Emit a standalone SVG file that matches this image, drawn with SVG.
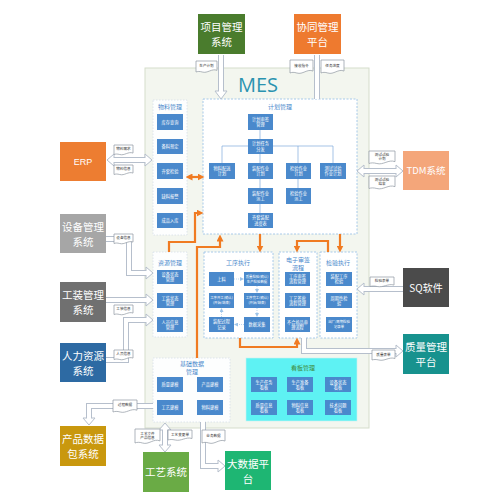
<svg xmlns="http://www.w3.org/2000/svg" width="500" height="500" viewBox="0 0 500 500">
<style>
text{font-family:"Noto Sans CJK SC","Noto Sans",sans-serif;text-anchor:middle;}
.b{fill:#4a89cc;}
.bt{fill:#fff;font-size:4.2px;}
.gt{fill:#4a89cc;font-size:6px;}
.grp{fill:#fdfefe;stroke:#d5e0ea;stroke-width:0.8;stroke-dasharray:1.5 1.5;}
.dash{fill:#fff;stroke:#9ec4e8;stroke-width:0.9;stroke-dasharray:2 1.5;}
.tl{stroke:#7ea9db;stroke-width:0.7;fill:none;}
.dl{stroke:#9ec4e8;stroke-width:0.7;fill:none;stroke-dasharray:1 1;}
.ho{fill:none;stroke:#b6bfcc;stroke-width:6;stroke-linejoin:miter;}
.hi{fill:none;stroke:#fff;stroke-width:4;stroke-linejoin:miter;}
.ah{fill:#fff;stroke:#b6bfcc;stroke-width:1;stroke-linejoin:miter;}
.or{fill:none;stroke:#f07b22;stroke-width:2.2;}
.doc{fill:#fff;stroke:#8e96a0;stroke-width:0.7;}
.dt{fill:#333;font-size:3.6px;}
.ext{font-size:10.5px;fill:#fff;}
</style>
<defs>
<path id="docp" d="M0,0 H20 V8.5 C15,6.5 11,11.5 6,10 C3.5,9.3 1.5,9.4 0,10 Z" vector-effect="non-scaling-stroke"/>
<marker id="oa" markerWidth="7" markerHeight="7" refX="3.5" refY="3.5" orient="auto" markerUnits="userSpaceOnUse" viewBox="0 0 7 7">
<path d="M0,0 L7,3.5 L0,7 Z" fill="#f07b22"/>
</marker>
<marker id="oas" markerWidth="7" markerHeight="7" refX="3.5" refY="3.5" orient="auto-start-reverse" markerUnits="userSpaceOnUse" viewBox="0 0 7 7">
<path d="M0,0 L7,3.5 L0,7 Z" fill="#f07b22"/>
</marker>
<marker id="da" markerWidth="4" markerHeight="4" refX="2" refY="2" orient="auto" markerUnits="userSpaceOnUse" viewBox="0 0 4 4">
<path d="M0,0 L4,2 L0,4 Z" fill="#9ec4e8"/>
</marker>
</defs>
<rect width="500" height="500" fill="#fff"/>

<!-- MES container -->
<g id="mes">
<rect x="145" y="68" width="224" height="360" fill="#f3f6ef" stroke="#d5ddcb" stroke-width="1"/>
<text x="258" y="92" style="font-family:'Open Sans','Liberation Sans',sans-serif;font-size:20px;fill:#2a93b0;">MES</text>
</g>

<g id="wuliao">
<rect class="grp" x="153" y="100" width="34" height="135"/>
<text class="gt" x="170" y="109">物料管理</text>
<rect class="b" x="157" y="114" width="26" height="16"/><text class="bt" x="170" y="123.5">库存查询</text>
<rect class="b" x="157" y="139" width="26" height="15"/><text class="bt" x="170" y="148">备料预定</text>
<rect class="b" x="157" y="163" width="26" height="16"/><text class="bt" x="170" y="172.5">齐套检验</text>
<rect class="b" x="157" y="188" width="26" height="16"/><text class="bt" x="170" y="197.5">缺料报警</text>
<rect class="b" x="157" y="213" width="26" height="15"/><text class="bt" x="170" y="222">成品入库</text>
</g>

<g id="jihua">
<rect class="dash" x="203" y="99" width="154" height="135"/>
<text class="gt" x="280" y="109">计划管理</text>
<path class="tl" d="M260,130 V139 M222,146 H333 M222,146 V163 M260,154 V163 M298,146 V163 M333,146 V163 M260,179 V188 M260,204 V213 M298,179 V188"/>
<rect class="b" x="248" y="114" width="25" height="16"/><text class="bt" x="260.5" y="120.8">计划审签</text><text class="bt" x="260.5" y="126.3">管理</text>
<rect class="b" x="248" y="139" width="25" height="15"/><text class="bt" x="260.5" y="145.3">计划任务</text><text class="bt" x="260.5" y="150.8">分发</text>
<rect class="b" x="209" y="163" width="26" height="16"/><text class="bt" x="222" y="169.8">物料配送</text><text class="bt" x="222" y="175.3">计划</text>
<rect class="b" x="248" y="163" width="25" height="16"/><text class="bt" x="260.5" y="169.8">装配作业</text><text class="bt" x="260.5" y="175.3">计划</text>
<rect class="b" x="286" y="163" width="25" height="16"/><text class="bt" x="298.5" y="169.8">检验作业</text><text class="bt" x="298.5" y="175.3">计划</text>
<rect class="b" x="320" y="163" width="26" height="16"/><text class="bt" x="333" y="169.8">测试试验</text><text class="bt" x="333" y="175.3">作业计划</text>
<rect class="b" x="248" y="188" width="25" height="16"/><text class="bt" x="260.5" y="194.8">装配作业</text><text class="bt" x="260.5" y="200.3">派工</text>
<rect class="b" x="286" y="188" width="25" height="16"/><text class="bt" x="298.5" y="194.8">检验作业</text><text class="bt" x="298.5" y="200.3">派工</text>
<rect class="b" x="248" y="213" width="25" height="15"/><text class="bt" x="260.5" y="219.3">齐套装配</text><text class="bt" x="260.5" y="224.8">进度表</text>
</g>

<g id="ziyuan">
<rect class="grp" x="153" y="252" width="34" height="85"/>
<text class="gt" x="170" y="265">资源管理</text>
<rect class="b" x="157" y="270" width="26" height="14"/><text class="bt" x="170" y="276">设备状态</text><text class="bt" x="170" y="281.2">管理</text>
<rect class="b" x="157" y="293" width="26" height="15"/><text class="bt" x="170" y="299.5">工装状态</text><text class="bt" x="170" y="304.7">管理</text>
<rect class="b" x="157" y="317" width="26" height="15"/><text class="bt" x="170" y="323.5">人员信息</text><text class="bt" x="170" y="328.7">管理</text>
</g>

<g id="gongxu">
<rect class="dash" x="204" y="252" width="69" height="86"/>
<text class="gt" x="238" y="265">工序执行</text>
<path class="dl" d="M234,279 H242" marker-end="url(#da)"/>
<path class="dl" d="M257,286 V291" marker-end="url(#da)"/>
<path class="dl" d="M257,308 V315" marker-end="url(#da)"/>
<path class="dl" d="M244,324.5 H236" marker-end="url(#da)"/>
<path class="dl" d="M221.5,317 V310" marker-end="url(#da)"/>
<rect class="b" x="209" y="272" width="25" height="14"/><text class="bt" x="221.5" y="280.5">上料</text>
<rect class="b" x="244" y="272" width="26" height="14"/><text class="bt" x="257" y="277.8" style="font-size:3.4px">质量检验(确认)</text><text class="bt" x="257" y="282.6" style="font-size:3.4px">生产检验数据</text>
<rect class="b" x="209" y="293" width="25" height="15"/><text class="bt" x="221.5" y="299.3" style="font-size:3.4px">工序开工(确认)</text><text class="bt" x="221.5" y="304.1" style="font-size:3.4px">(开始/结束)</text>
<rect class="b" x="244" y="293" width="26" height="15"/><text class="bt" x="257" y="299.3" style="font-size:3.4px">工序完工(确认)</text><text class="bt" x="257" y="304.1" style="font-size:3.4px">(开始/结束)</text>
<rect class="b" x="209" y="317" width="25" height="15"/><text class="bt" x="221.5" y="323.3">装配过程</text><text class="bt" x="221.5" y="328.6">记录</text>
<rect class="b" x="244" y="317" width="26" height="15"/><text class="bt" x="257" y="326">数据采集</text>
</g>

<g id="shenqian">
<rect class="dash" x="279" y="252" width="38" height="86"/>
<text class="gt" x="298" y="262">电子审签</text>
<text class="gt" x="298" y="270">流程</text>
<rect class="b" x="285" y="272" width="25" height="14"/><text class="bt" x="297.5" y="278">工序审签</text><text class="bt" x="297.5" y="283.2">流程管理</text>
<rect class="b" x="285" y="293" width="25" height="15"/><text class="bt" x="297.5" y="299.5">工艺签批</text><text class="bt" x="297.5" y="304.7">流程管理</text>
<rect class="b" x="285" y="317" width="25" height="15"/><text class="bt" x="297.5" y="323.5">不合格品审</text><text class="bt" x="297.5" y="328.7">理流程</text>
</g>

<g id="jianyan">
<rect class="dash" x="320" y="252" width="37" height="86"/>
<text class="gt" x="338" y="265">检验执行</text>
<rect class="b" x="326" y="272" width="26" height="14"/><text class="bt" x="339" y="278">装配工序</text><text class="bt" x="339" y="283.2">检验</text>
<rect class="b" x="326" y="293" width="26" height="15"/><text class="bt" x="339" y="299.5">周期性检</text><text class="bt" x="339" y="304.7">验</text>
<rect class="b" x="326" y="317" width="26" height="15"/><text class="bt" x="339" y="323.3" style="font-size:3.4px">出厂/周期检验</text><text class="bt" x="339" y="328.3" style="font-size:3.4px">记录单</text>
</g>

<g id="jichu">
<rect class="grp" x="153" y="358" width="77" height="64"/>
<text class="gt" x="192" y="366">基础数据</text>
<text class="gt" x="192" y="374">管理</text>
<rect class="b" x="157" y="377" width="26" height="15"/><text class="bt" x="170" y="386">质量建模</text>
<rect class="b" x="197" y="377" width="26" height="15"/><text class="bt" x="210" y="386">产品建模</text>
<rect class="b" x="157" y="400" width="26" height="15"/><text class="bt" x="170" y="409">工艺建模</text>
<rect class="b" x="197" y="400" width="26" height="15"/><text class="bt" x="210" y="409">物料建模</text>
</g>

<g id="kanban">
<rect x="246" y="358" width="111" height="63" fill="#5ef2f3" stroke="#c8f2f2" stroke-width="0.6"/>
<text x="303" y="370" style="font-size:6px;fill:#3f8a3a">看板管理</text>
<rect class="b" x="251" y="377" width="26" height="15"/><text class="bt" x="264" y="383.5">生产任务</text><text class="bt" x="264" y="388.7">看板</text>
<rect class="b" x="287" y="377" width="26" height="15"/><text class="bt" x="300" y="383.5">生产准备</text><text class="bt" x="300" y="388.7">看板</text>
<rect class="b" x="325" y="377" width="26" height="15"/><text class="bt" x="338" y="383.5">设备状态</text><text class="bt" x="338" y="388.7">看板</text>
<rect class="b" x="251" y="400" width="26" height="15"/><text class="bt" x="264" y="406.5">质量信息</text><text class="bt" x="264" y="411.7">看板</text>
<rect class="b" x="287" y="400" width="26" height="15"/><text class="bt" x="300" y="406.5">物料信息</text><text class="bt" x="300" y="411.7">看板</text>
<rect class="b" x="325" y="400" width="26" height="15"/><text class="bt" x="338" y="406.5">技术问题</text><text class="bt" x="338" y="411.7">看板</text>
</g>

<g id="connectors">
<!-- orange internal flows -->
<path class="or" d="M189,177 H201" marker-start="url(#oas)" marker-end="url(#oa)"/>
<path class="or" d="M169,252 V242 H195 V213 H200" marker-end="url(#oa)"/>
<path class="or" d="M197,358 V247 H220 V238" marker-end="url(#oa)"/>
<path class="or" d="M260,234 V249" marker-end="url(#oa)"/>
<path class="or" d="M340,234 V249" marker-end="url(#oa)"/>
<path class="or" d="M328,252 V241 H297 V249" marker-end="url(#oa)"/>
<path class="or" d="M240,338 V347 H297 V341" marker-end="url(#oa)"/>

<!-- hollow outer shafts -->
<path class="ho" d="M221,55 V91"/>
<path class="ho" d="M317,55 V99"/>
<path class="ho" d="M114,160 H145"/>
<path class="ho" d="M106,239 H129 V273 H146"/>
<path class="ho" d="M106,300 H146"/>
<path class="ho" d="M106,360 H126 V320 H146"/>
<path class="ho" d="M364,171 H396"/>
<path class="ho" d="M403,289 H364"/>
<path class="ho" d="M304,338 V351 H396"/>
<path class="ho" d="M153,406 H89 V418"/>
<path class="ho" d="M165,430 V445"/>
<path class="ho" d="M203,422 V466 H218"/>
<!-- heads -->
<polygon class="ah" points="215,91 221,99 227,91"/>
<polygon class="ah" points="114,154 107,160 114,166"/>
<polygon class="ah" points="145,154 152,160 145,166"/>
<polygon class="ah" points="146,267 153,273 146,279"/>
<polygon class="ah" points="146,294 153,300 146,306"/>
<polygon class="ah" points="146,314 153,320 146,326"/>
<polygon class="ah" points="364,165 357,171 364,177"/>
<polygon class="ah" points="396,165 403,171 396,177"/>
<polygon class="ah" points="364,283 357,289 364,295"/>
<polygon class="ah" points="396,345 403,351 396,357"/>
<polygon class="ah" points="83,418 89,425 95,418"/>
<polygon class="ah" points="159,430 165,423 171,430"/>
<polygon class="ah" points="159,445 165,452 171,445"/>
<polygon class="ah" points="218,460 225,466 218,472"/>
<!-- inner shafts -->
<path class="hi" d="M221,54 V94"/>
<path class="hi" d="M317,54 V99"/>
<path class="hi" d="M111,160 H148"/>
<path class="hi" d="M105,239 H129 V273 H149"/>
<path class="hi" d="M105,300 H149"/>
<path class="hi" d="M105,360 H126 V320 H149"/>
<path class="hi" d="M361,171 H399"/>
<path class="hi" d="M404,289 H361"/>
<path class="hi" d="M304,337 V351 H399"/>
<path class="hi" d="M154,406 H89 V421"/>
<path class="hi" d="M165,427 V448"/>
<path class="hi" d="M203,421 V466 H221"/>

<!-- document labels -->
<use href="#docp" class="doc" transform="translate(196,61) scale(1.05,1.1)"/><text class="dt" x="206.5" y="67">生产计划</text>
<use href="#docp" class="doc" transform="translate(290,60) scale(1.15,1.3)"/><text class="dt" x="301.5" y="67">接收指令</text>
<use href="#docp" class="doc" transform="translate(321,60) scale(1.15,1.3)"/><text class="dt" x="332.5" y="67">任务进度</text>
<use href="#docp" class="doc" transform="translate(114,145) scale(0.95,0.95)"/><text class="dt" x="123.5" y="150.3">物料需求</text>
<use href="#docp" class="doc" transform="translate(114,165) scale(0.95,0.95)"/><text class="dt" x="123.5" y="170.3">物料信息</text>
<use href="#docp" class="doc" transform="translate(114,234) scale(0.95,0.95)"/><text class="dt" x="123.5" y="239.3">设备信息</text>
<use href="#docp" class="doc" transform="translate(114,305) scale(0.95,0.95)"/><text class="dt" x="123.5" y="310.3">工装信息</text>
<use href="#docp" class="doc" transform="translate(114,350) scale(0.95,0.95)"/><text class="dt" x="123.5" y="355.3">人员信息</text>
<use href="#docp" class="doc" transform="translate(369,151) scale(1.3,1.25)"/><text class="dt" x="382" y="156">测试试验</text><text class="dt" x="382" y="160">计划</text>
<use href="#docp" class="doc" transform="translate(369,176) scale(1.3,1.25)"/><text class="dt" x="382" y="181">测试试验</text><text class="dt" x="382" y="185">结果</text>
<use href="#docp" class="doc" transform="translate(370,277) scale(1.2,0.95)"/><text class="dt" x="382" y="282.3">检验表单</text>
<use href="#docp" class="doc" transform="translate(372,350) scale(1.15,1.0)"/><text class="dt" x="383.5" y="355.5">质量表单</text>
<use href="#docp" class="doc" transform="translate(113,400) scale(1.2,1.2)"/><text class="dt" x="125" y="406">过程数据</text>
<use href="#docp" class="doc" transform="translate(135,429) scale(1.25,1.4)"/><text class="dt" x="147.5" y="434.5">工艺文件</text><text class="dt" x="147.5" y="438.7">产品信息</text>
<use href="#docp" class="doc" transform="translate(168,430) scale(1.2,1.0)"/><text class="dt" x="180" y="435.5">工艺变更单</text>
<use href="#docp" class="doc" transform="translate(202,430) scale(1.15,1.3)"/><text class="dt" x="213.5" y="437">业务数据</text>
</g>

<!-- external systems -->
<g id="xiangmu"><rect x="198" y="14" width="47" height="40" fill="#4a7c2d"/><text class="ext" x="221.5" y="31">项目管理</text><text class="ext" x="221.5" y="46">系统</text></g>
<g id="xietong"><rect x="294" y="14" width="47" height="40" fill="#ee7a2f"/><text class="ext" x="317.5" y="31">协同管理</text><text class="ext" x="317.5" y="46">平台</text></g>
<g id="erp"><rect x="60" y="142" width="46" height="39" fill="#ed7d31"/><text class="ext" x="83" y="165" style="font-size:9px;font-family:'Liberation Sans',sans-serif">ERP</text></g>
<g id="shebei"><rect x="60" y="214" width="46" height="39" fill="#a6a6a6"/><text class="ext" x="83" y="231">设备管理</text><text class="ext" x="83" y="246">系统</text></g>
<g id="gongzhuang"><rect x="60" y="282" width="46" height="40" fill="#707070"/><text class="ext" x="83" y="299">工装管理</text><text class="ext" x="83" y="314">系统</text></g>
<g id="renli"><rect x="60" y="343" width="46" height="39" fill="#2d6aa3"/><text class="ext" x="83" y="360">人力资源</text><text class="ext" x="83" y="375">系统</text></g>
<g id="tdm"><rect x="403" y="151" width="46" height="39" fill="#f4a67a"/><text class="ext" x="426" y="174" style="font-size:9.5px">TDM系统</text></g>
<g id="sq"><rect x="403" y="268" width="46" height="39" fill="#4b4b4b"/><text class="ext" x="426" y="291.5" style="font-size:10px">SQ软件</text></g>
<g id="zhiliang"><rect x="403" y="334" width="46" height="40" fill="#17928e"/><text class="ext" x="426" y="351">质量管理</text><text class="ext" x="426" y="366">平台</text></g>
<g id="chanpin"><rect x="60" y="426" width="46" height="40" fill="#c9980e"/><text class="ext" x="83" y="443">产品数据</text><text class="ext" x="83" y="458">包系统</text></g>
<g id="gongyi"><rect x="143" y="452" width="46" height="40" fill="#6aab45"/><text class="ext" x="166" y="476">工艺系统</text></g>
<g id="dashuju"><rect x="225" y="451" width="46" height="39" fill="#1eb673"/><text class="ext" x="248" y="468">大数据平</text><text class="ext" x="248" y="483">台</text></g>
</svg>
